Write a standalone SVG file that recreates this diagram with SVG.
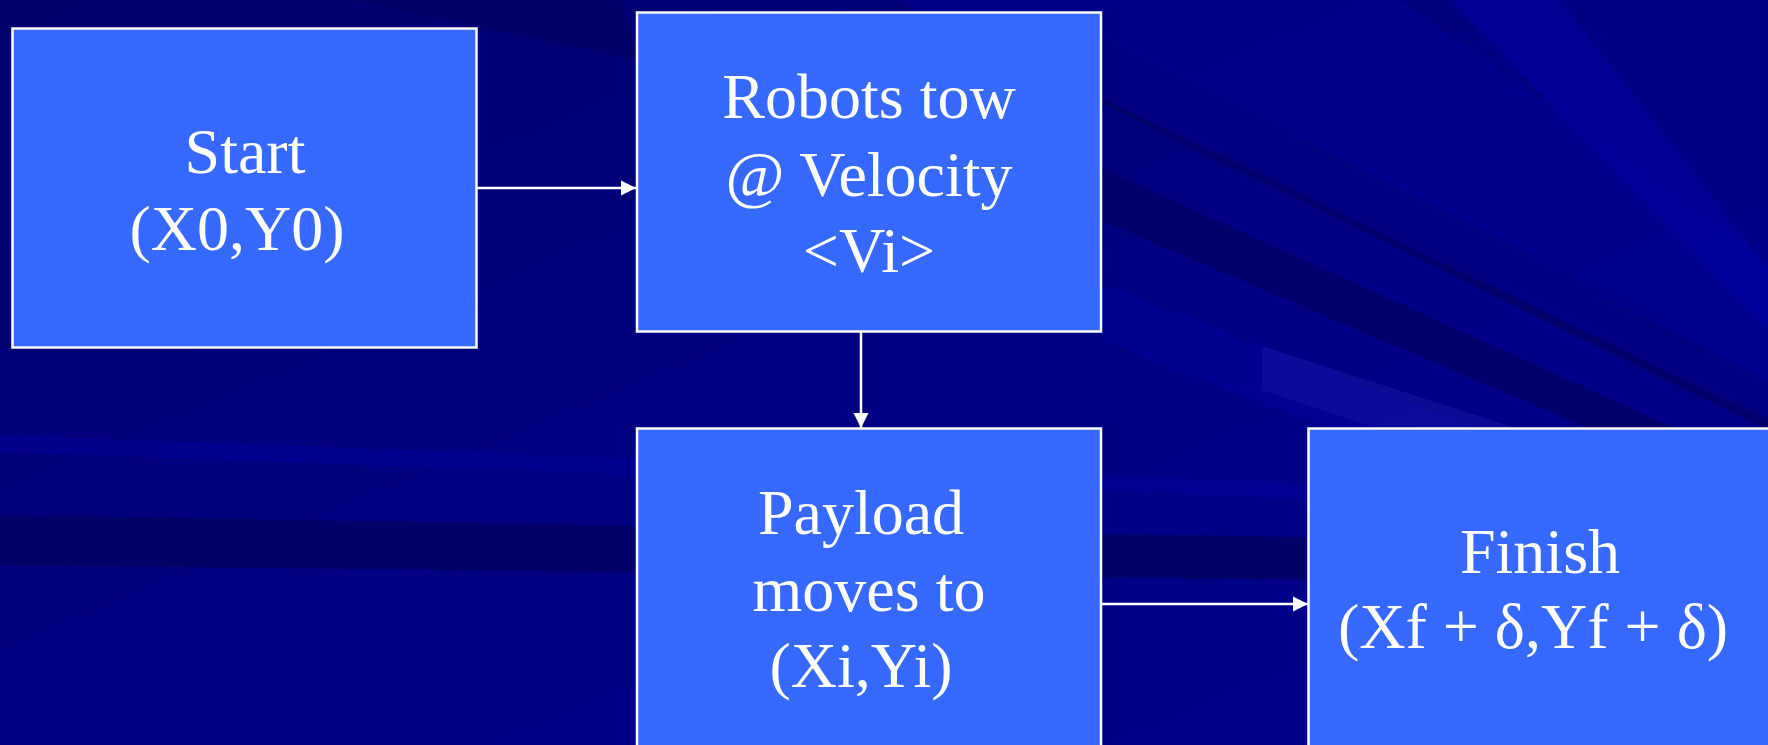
<svg xmlns="http://www.w3.org/2000/svg" width="1768" height="745" viewBox="0 0 1768 745">
  <style>
    .box { fill: #3669ff; stroke: #ffffff; stroke-width: 2.5; }
    .lbl { font-family: "Liberation Serif", "Times New Roman", serif; font-size: 64px; fill: #ffffff; text-anchor: middle; }
    .conn { stroke: #ffffff; stroke-width: 2.5; fill: none; }
  </style>
  <defs>
    <marker id="arrow" markerWidth="16" markerHeight="16" refX="15" refY="8" orient="auto" markerUnits="userSpaceOnUse">
      <path d="M0,0.5 L15,8 L0,15.5 Z" fill="#ffffff"/>
    </marker>
    <linearGradient id="bg" x1="0" y1="0" x2="1" y2="1">
      <stop offset="0" stop-color="#00006e"/>
      <stop offset="0.5" stop-color="#000082"/>
      <stop offset="1" stop-color="#00008e"/>
    </linearGradient>
  </defs>

  <g id="background">
    <rect x="0" y="0" width="1768" height="745" fill="url(#bg)"/>
    <polygon points="0,515 1768,545 1768,585 0,565" fill="#000062" opacity="0.8"/>
    <polygon points="0,435 1768,500 1768,515 0,452" fill="#00009a" opacity="0.6"/>
    <polygon points="1100,32 1768,380 1768,430 1100,103" fill="#000066" opacity="0.8"/>
    <polygon points="1100,168 1768,470 1768,505 1100,220" fill="#000066" opacity="0.8"/>
    <polygon points="900,0 1400,0 1768,260 1768,420" fill="#000095" opacity="0.5"/>
    <polygon points="1450,0 1560,0 1768,270 1768,330" fill="#0000a6" opacity="0.5"/>
    <polygon points="1100,283 1768,540 1768,600 1100,340" fill="#0000a0" opacity="0.45"/>
    <polygon points="1262,346 1768,510 1768,560 1262,390" fill="#2020b0" opacity="0.35"/>
    <polygon points="200,0 620,0 640,60 350,0" fill="#000060" opacity="0.6"/>
  </g>

  <g id="connectors">
    <line class="conn" x1="477" y1="188" x2="636" y2="188" marker-end="url(#arrow)"/>
    <line class="conn" x1="861" y1="332" x2="861" y2="428" marker-end="url(#arrow)"/>
    <line class="conn" x1="1101" y1="604" x2="1308" y2="604" marker-end="url(#arrow)"/>
  </g>

  <g id="node-start">
    <rect class="box" x="12.5" y="28.5" width="464" height="319"/>
    <text class="lbl" x="245" y="173">Start</text>
    <text class="lbl" x="237" y="250">(X0,Y0)</text>
  </g>

  <g id="node-robots">
    <rect class="box" x="637" y="12.5" width="464" height="319"/>
    <text class="lbl" x="869" y="118">Robots tow</text>
    <text class="lbl" x="869" y="196">@ Velocity</text>
    <text class="lbl" x="869" y="272">&lt;Vi&gt;</text>
  </g>

  <g id="node-payload">
    <rect class="box" x="637" y="428.5" width="464" height="330"/>
    <text class="lbl" x="861" y="534">Payload</text>
    <text class="lbl" x="869" y="611">moves to</text>
    <text class="lbl" x="861" y="687">(Xi,Yi)</text>
  </g>

  <g id="node-finish">
    <rect class="box" x="1308.5" y="428.5" width="470" height="330"/>
    <text class="lbl" x="1540" y="573">Finish</text>
    <text class="lbl" x="1533" y="648">(Xf + δ,Yf + δ)</text>
  </g>
</svg>
